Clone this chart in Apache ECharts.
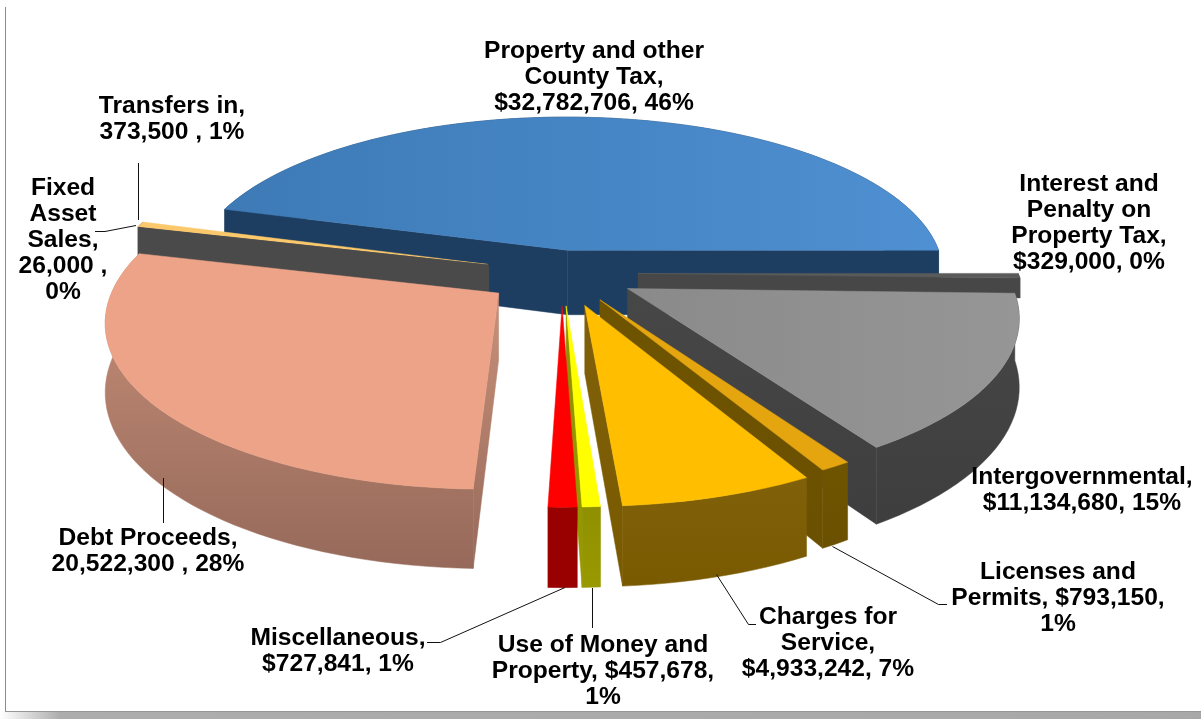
<!DOCTYPE html>
<html><head><meta charset="utf-8">
<style>html,body{margin:0;padding:0;background:#fff}#c{width:1201px;height:719px}</style>
<script src="https://cdn.jsdelivr.net/npm/echarts@6/dist/echarts.min.js"></script>
</head><body><div id="c"></div>
<script>
// ---- data ----
const categories = ['Property and other County Tax','Interest and Penalty on Property Tax','Intergovernmental','Licenses and Permits','Charges for Service','Use of Money and Property','Miscellaneous','Debt Proceeds','Fixed Asset Sales','Transfers in'];
const values = [32782706,329000,11134680,793150,4933242,457678,727841,20522300,26000,373500];
const labelLines = [
  ['Property and other','County Tax,','$32,782,706, 46%'],
  ['Interest and','Penalty on','Property Tax,','$329,000, 0%'],
  ['Intergovernmental,','$11,134,680, 15%'],
  ['Licenses and','Permits, $793,150,','1%'],
  ['Charges for','Service,','$4,933,242, 7%'],
  ['Use of Money and','Property, $457,678,','1%'],
  ['Miscellaneous,','$727,841, 1%'],
  ['Debt Proceeds,','20,522,300 , 28%'],
  ['Fixed','Asset','Sales,','26,000 ,','0%'],
  ['Transfers in,','373,500 , 1%']
];
// ---- style / layout ----
const topColors  = [['#3d7ab6','#4f90d2'],['#5a5a5a','#5a5a5a'],['#8a8a8a','#969696'],['#e5a50e','#e5a50e'],['#ffbf00','#ffbf00'],['#ffff00','#ffff00'],['#ff0000','#ff0000'],['#eda387','#eda387'],['#4a4a4a','#4a4a4a'],['#fcc86c','#fcc86c']];
const wallTop    = ['#1d3e60','#474747','#474747','#6f5400','#80600a','#8f9000','#990000','#c9917a','#4a4a4a','#4a4a4a'];
const wallBottom = ['#1d3e60','#474747','#3e3e3e','#6a5000','#7a5a00','#999900','#990000','#96695a','#4a4a4a','#4a4a4a'];
const explode    = [0.16,0.2,0.195,0.19,0.205,0.2,0.2,0.205,0.2,0.205];
const depthScale = [1,0.3,1,1,1,1,1,1,1,1];
const nudgeX     = [-3,0,0,0,0,0,0,0,0,0];
const nudgeY     = [2,0,0,0,0,0,0,0,0,0];
const paintOrder = [0,1,9,8,7,2,3,4,5,6];
const labelPos = [[594,50],[1089,183],[1082,476],[1058,571],[828,616],[603,644],[338,637],[148,537],[63,187],[172,105]];
const leaders = [
  null,null,null,
  [[832.5,546.5],[938.5,604.5],[947,604.5]],
  [[716.5,574.5],[748.5,624.5],[756,624.5]],
  [[592.5,588],[592.5,628]],
  [[565,587.5],[440.5,642.5],[427,642.5]],
  [[163.5,478],[163.5,523]],
  [[136,225.5],[105,231.5],[95,231.5]],
  [[138.5,220],[138.5,163]]
];
const CX=562, CY=273, RX=380, RY=160, PERSP=0.15, DEPTH=66, START=-73.75, LINE=26;
const total = values.reduce((a,b)=>a+b,0);
function proj(u,v,h,i){const w=1/(1-PERSP*v);return [CX+nudgeX[i]+RX*u*w, CY+nudgeY[i]+RY*v*w+DEPTH*h*w];}
function slices(){
  let a=START;
  return values.map((val,i)=>{const s=a;a+=val/total*360;return {s,e:a,i};});
}
function sliceShapes(sl){
  const d=Math.PI/180, mid=(sl.s+sl.e)/2*d, ex=explode[sl.i], h=depthScale[sl.i], i=sl.i;
  const u0=Math.sin(mid)*ex, v0=-Math.cos(mid)*ex;
  const n=Math.max(2,Math.ceil((sl.e-sl.s)/2));
  const arcT=[],arcB=[];
  for(let k=0;k<=n;k++){
    const t=(sl.s+(sl.e-sl.s)*k/n)*d, u=u0+Math.sin(t), v=v0-Math.cos(t);
    arcT.push(proj(u,v,0,i));arcB.push(proj(u,v,h,i));
  }
  const aT=proj(u0,v0,0,i), aB=proj(u0,v0,h,i);
  const wall={type:'linear',x:0,y:0,x2:0,y2:1,colorStops:[{offset:0,color:wallTop[i]},{offset:1,color:wallBottom[i]}]};
  const poly=(pts,fill)=>({type:'polygon',shape:{points:pts},style:{fill,stroke:fill,lineWidth:0.5}});
  const out=[];
  // only the radial walls that face the viewer are drawn
  if(arcT[0][0]-aT[0]<0) out.push(poly([aT,arcT[0],arcB[0],aB],wall));
  if(aT[0]-arcT[n][0]<0) out.push(poly([aT,arcT[n],arcB[n],aB],wall));
  out.push(poly(arcT.concat(arcB.slice().reverse()),wall));
  const c=topColors[i];
  out.push(poly([aT].concat(arcT),{type:'linear',x:0,y:0,x2:1,y2:0,colorStops:[{offset:0,color:c[0]},{offset:1,color:c[1]}]}));
  return out;
}
const chart=echarts.init(document.getElementById('c'),null,{renderer:'canvas'});
function renderItem(){
  const ch=[];
  // page frame
  ch.push({type:'rect',shape:{x:0,y:711,width:1201,height:8},style:{fill:{type:'linear',x:0,y:0,x2:1,y2:0,colorStops:[{offset:0,color:'#ffffff'},{offset:0.05,color:'#adadad'},{offset:1,color:'#a8a8a8'}]}}});
  ch.push({type:'rect',shape:{x:5,y:711,width:1196,height:1},style:{fill:'#969696'}});
  ch.push({type:'rect',shape:{x:5,y:7,width:1,height:704},style:{fill:'#8c8c8c'}});
  const all=slices();
  paintOrder.forEach(i=>sliceShapes(all[i]).forEach(s=>ch.push(s)));
  leaders.forEach(l=>{ if(l) ch.push({type:'polyline',shape:{points:l},style:{fill:'none',stroke:'#111',lineWidth:1}}); });
  labelLines.forEach((lines,i)=>lines.forEach((t,j)=>ch.push({type:'text',style:{text:t,x:labelPos[i][0],y:labelPos[i][1]+1+j*LINE,align:'center',verticalAlign:'middle',font:'bold 24.6px "Liberation Sans", Arial, sans-serif',fill:'#000'}})));
  return {type:'group',children:ch};
}
chart.setOption({
  animation:false,
  backgroundColor:'#ffffff',
  series:[{type:'custom',coordinateSystem:'none',renderItem,data:[categories.map((c,i)=>values[i])],silent:true}]
});
</script></body></html>
